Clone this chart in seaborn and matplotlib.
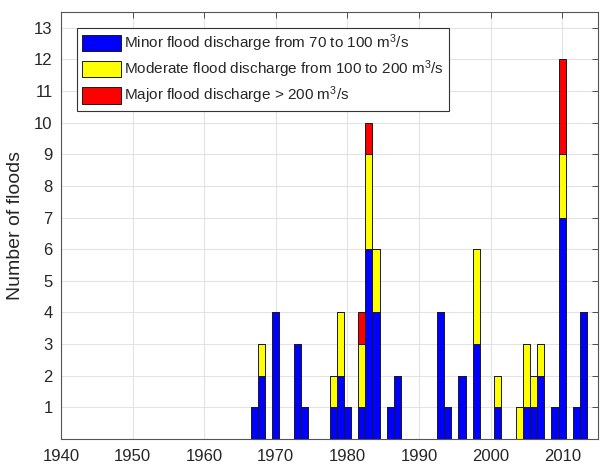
import numpy as np
import pandas as pd
import matplotlib
matplotlib.use("Agg")
import matplotlib.pyplot as plt
import seaborn as sns
from matplotlib.patches import Patch

# ---- data ----
years = [1967, 1968, 1970, 1973, 1974, 1978, 1979, 1980, 1982, 1983, 1984,
         1986, 1987, 1993, 1994, 1996, 1998, 2001, 2004, 2005, 2006, 2007,
         2009, 2010, 2012, 2013]
minor = [1, 2, 4, 3, 1, 1, 2, 1, 1, 6, 4, 1, 2, 4, 1, 2, 3, 1, 0, 1, 1, 2, 1, 7, 1, 4]
moderate = [0, 1, 0, 0, 0, 1, 2, 0, 2, 3, 2, 0, 0, 0, 0, 0, 3, 1, 1, 2, 1, 1, 0, 2, 0, 0]
major = [0, 0, 0, 0, 0, 0, 0, 0, 1, 1, 0, 0, 0, 0, 0, 0, 0, 0, 0, 0, 0, 0, 0, 3, 0, 0]

labels = [r"Minor flood discharge from 70 to 100 m$^3$/s",
          r"Moderate flood discharge from 100 to 200 m$^3$/s",
          r"Major flood discharge > 200 m$^3$/s"]
colors = ["#0000ff", "#ffff00", "#ff0000"]
xticks = [1940, 1950, 1960, 1970, 1980, 1990, 2000, 2010]
yticks = list(range(1, 14))

rows = []
for lab, vals in zip(labels, [minor, moderate, major]):
    for y, v in zip(years, vals):
        if v > 0:
            rows.append({"year": y, "count": v, "cat": lab})
df = pd.DataFrame(rows)

sns.set_theme(style="white")
plt.rcParams["font.family"] = ["Liberation Sans", "DejaVu Sans"]
plt.rcParams["mathtext.default"] = "regular"

fig = plt.figure(figsize=(6.01, 4.69), dpi=100)
ax = fig.add_axes([61 / 601, 1 - 439 / 469, 537 / 601, 427 / 469])

hue_order = labels[::-1]  # seaborn stacks last hue level at the bottom
sns.histplot(data=df, x="year", weights="count", hue="cat", hue_order=hue_order,
             palette=dict(zip(labels, colors)), multiple="stack", discrete=True,
             shrink=1.0, alpha=1.0, edgecolor="#1a1a1a", linewidth=0.7,
             legend=False, ax=ax)

ax.set_xlim(1940, 2015)
ax.set_ylim(0, 13.5)
ax.set_xticks(xticks)
ax.set_yticks(yticks)
ax.set_xlabel("")
ax.set_ylabel("Number of floods", fontsize=14, color="#262626", labelpad=7.5)
ax.grid(True, color="#e3e3e3", linewidth=0.8)
ax.set_axisbelow(True)
ax.tick_params(axis="both", direction="in", top=True, right=True, length=4,
               width=0.7, color="#4d4d4d", labelsize=12, labelcolor="#262626")
ax.tick_params(axis="x", pad=7.5)
ax.tick_params(axis="y", pad=6)
for s in ax.spines.values():
    s.set_color("#555555")
    s.set_linewidth(0.8)

handles = [Patch(facecolor=c, edgecolor="#1a1a1a", linewidth=0.7) for c in colors]
leg = ax.legend(handles, labels, loc="upper left", bbox_to_anchor=(0.03, 0.963),
                borderaxespad=0, fontsize=11, frameon=True, fancybox=False,
                edgecolor="#333333", framealpha=1, handlelength=2.55,
                handleheight=1.3, handletextpad=0.25, labelspacing=0.3,
                borderpad=0.3)
leg.get_frame().set_linewidth(0.8)

fig.savefig("out.png", dpi=100)
